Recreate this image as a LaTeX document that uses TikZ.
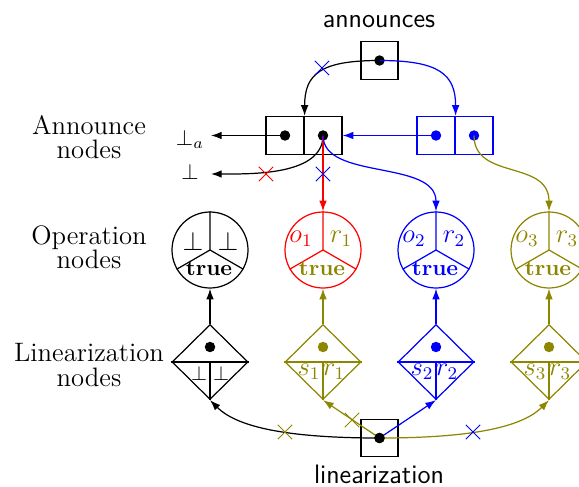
\documentclass[tikz,border=0pt]{standalone}
\usetikzlibrary{arrows.meta,shapes.geometric,shapes.misc}
\begin{document}
\begin{tikzpicture}[x=0.45pt,y=-0.45pt, line width=0.55pt,
  cellbox/.style={draw, rectangle, minimum width=17.1pt, minimum height=17.1pt, inner sep=0pt},
  smallbox/.style={draw, rectangle, minimum width=16.65pt, minimum height=16.8pt, inner sep=0pt},
  opnode/.style={draw, circle, minimum size=34.2pt, inner sep=0pt},
  linnode/.style={draw, diamond, minimum width=34.2pt, minimum height=33.75pt, inner sep=0pt},
  dotnode/.style={circle, fill, inner sep=0pt, minimum size=4.7pt},
  xmark/.style={cross out, draw, minimum size=6pt, inner sep=0pt, line width=0.45pt},
  arr/.style={-{Latex[length=4.8pt,width=3.4pt]}},
  rowlabel/.style={align=center, font=\fontsize{12}{11}\selectfont},
  sflabel/.style={font=\fontsize{12}{14}\sffamily\selectfont},
  txt/.style={inner sep=0pt},
  bigtxt/.style={inner sep=0pt, font=\large},
  smalltxt/.style={inner sep=0pt, font=\small}
]
\useasboundingbox (0,0) rectangle (579,486);
\clip (0,0) rectangle (579,486);

% row labels
\node[rowlabel] (lA) at (89,137) {Announce\\nodes};
\node[rowlabel] (lO) at (89,247) {Operation\\nodes};
\node[rowlabel] (lL) at (89,365) {Linearization\\nodes};

% announces
\node[sflabel] (annT) at (379,22) {announces};
\node[smallbox] (ann) at (379.5,60.5) {};
\node[dotnode] (annD) at (ann.center) {};

% announce nodes
\node[cellbox] (a1l) at (285,135.5) {};
\node[cellbox] (a1r) at (323,135.5) {};
\node[dotnode] (d1l) at (a1l.center) {};
\node[dotnode] (d1r) at (a1r.center) {};
\node[cellbox, blue] (a2l) at (436,135.5) {};
\node[cellbox, blue] (a2r) at (474,135.5) {};
\node[dotnode, blue] (d2l) at (a2l.center) {};
\node[dotnode, blue] (d2r) at (a2r.center) {};

\node (botA) at (190,139) {$\bot_a$};
\node (bot) at (190,172) {$\bot$};
\coordinate (t1) at (211,135.5);
\coordinate (t2) at (211,174);

% operation nodes
\node[opnode] (o0) at (210,250) {};
\node[opnode, red] (o1) at (323,250) {};
\node[opnode, blue] (o2) at (436,250) {};
\node[opnode, olive] (o3) at (549,250) {};
\draw (o0.north) -- (o0.center) -- (o0.-150) (o0.center) -- (o0.-30);
\draw[red] (o1.north) -- (o1.center) -- (o1.-150) (o1.center) -- (o1.-30);
\draw[blue] (o2.north) -- (o2.center) -- (o2.-150) (o2.center) -- (o2.-30);
\draw[olive] (o3.north) -- (o3.center) -- (o3.-150) (o3.center) -- (o3.-30);

\node[bigtxt] at ([shift={(-17,-9)}]o0.center) {$\bot$};
\node[bigtxt] at ([shift={(18,-9)}]o0.center) {$\bot$};
\node[txt] at ([shift={(-1,18)}]o0.center) {$\mathbf{true}$};
\node[bigtxt, red] at ([shift={(-22,-11)}]o1.center) {$o_1$};
\node[bigtxt, olive] at ([shift={(18,-11)}]o1.center) {$r_1$};
\node[txt, olive] at ([shift={(-1,18)}]o1.center) {$\mathbf{true}$};
\node[bigtxt, blue] at ([shift={(-22,-11)}]o2.center) {$o_2$};
\node[bigtxt, blue] at ([shift={(18,-11)}]o2.center) {$r_2$};
\node[txt, blue] at ([shift={(-1,18)}]o2.center) {$\mathbf{true}$};
\node[bigtxt, olive] at ([shift={(-22,-11)}]o3.center) {$o_3$};
\node[bigtxt, olive] at ([shift={(18,-11)}]o3.center) {$r_3$};
\node[txt, olive] at ([shift={(-1,18)}]o3.center) {$\mathbf{true}$};

% linearization nodes
\node[linnode] (l0) at (210,362) {};
\node[linnode, olive] (l1) at (323,362) {};
\node[linnode, blue] (l2) at (436,362) {};
\node[linnode, olive] (l3) at (549,362) {};
\draw (l0.west) -- (l0.east) (l0.center) -- (l0.south);
\draw[olive] (l1.west) -- (l1.east) (l1.center) -- (l1.south);
\draw[blue] (l2.west) -- (l2.east) (l2.center) -- (l2.south);
\draw[olive] (l3.west) -- (l3.east) (l3.center) -- (l3.south);
\node[dotnode] (ld0) at ([shift={(0,-15)}]l0.center) {};
\node[dotnode, olive] (ld1) at ([shift={(0,-15)}]l1.center) {};
\node[dotnode, blue] (ld2) at ([shift={(0,-15)}]l2.center) {};
\node[dotnode, olive] (ld3) at ([shift={(0,-15)}]l3.center) {};
\node[smalltxt] at ([shift={(-11,12)}]l0.center) {$\bot$};
\node[smalltxt] at ([shift={(11,12)}]l0.center) {$\bot$};
\node[bigtxt, olive] at ([shift={(-14,10)}]l1.center) {$s_1$};
\node[bigtxt, olive] at ([shift={(11,10)}]l1.center) {$r_1$};
\node[bigtxt, blue] at ([shift={(-14,10)}]l2.center) {$s_2$};
\node[bigtxt, blue] at ([shift={(11,10)}]l2.center) {$r_2$};
\node[bigtxt, olive] at ([shift={(-14,10)}]l3.center) {$s_3$};
\node[bigtxt, olive] at ([shift={(11,10)}]l3.center) {$r_3$};

% linearization box
\node[smallbox] (lin) at (379.5,438) {};
\node[dotnode] (linD) at (lin.center) {};
\node[sflabel] (linT) at (379,474) {linearization};

% connectors: announces
\draw[arr] (annD.center) .. controls +(-59,0) and +(0,-42) .. (a1l.north east);
\draw[arr, blue] (annD.center) .. controls +(59,0) and +(0,-42) .. (a2l.north east);
\node[xmark, blue] at (322,68) {};

\draw[arr] (d1l.center) -- (t1);
\draw[arr] (d1r.center) .. controls +(0,40) and +(40,0) .. (t2);
\node[xmark, red] at (266,174) {};
\draw[arr, red] (d1r.center) -- (o1.north);
\node[xmark, blue] at (323,174) {};
\draw[arr, blue] (d1r.center) .. controls +(0,45) and +(0,-52) .. (o2.north);
\draw[arr, blue] (d2l.center) -- (a1r.east);
\draw[arr, olive] (d2r.center) .. controls +(0,45) and +(0,-52) .. (o3.north);

% linearization to operation
\draw[arr] (l0.north) -- (o0.south);
\draw[arr, olive] (l1.north) -- (o1.south);
\draw[arr, blue] (l2.north) -- (o2.south);
\draw[arr, olive] (l3.north) -- (o3.south);

% linearization box to linearization nodes
\draw[arr] (linD.center) .. controls +(-100,0) and +(25,25) .. (l0.south);
\node[xmark, olive] at (285,432) {};
\draw[arr, olive] (linD.center) -- (l1.south);
\node[xmark, olive] at (352,420) {};
\draw[arr, blue] (linD.center) -- (l2.south);
\draw[arr, olive] (linD.center) .. controls +(100,0) and +(-25,25) .. (l3.south);
\node[xmark, blue] at (473,432) {};
\node[dotnode] at (lin.center) {};
\end{tikzpicture}
\end{document}
